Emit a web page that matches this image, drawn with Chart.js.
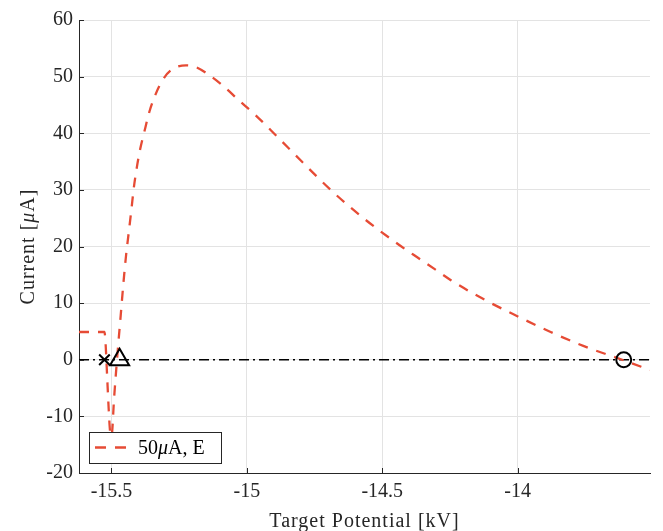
<!DOCTYPE html>
<html>
<head>
<meta charset="utf-8">
<script src="https://cdn.jsdelivr.net/npm/chart.js@4.4.0/dist/chart.umd.min.js"></script>
<style>
  html, body { margin: 0; padding: 0; background: #fff; }
  canvas { display: block; }
</style>
</head>
<body>
<canvas id="chart" width="663" height="531"></canvas>
<script>
// Target potential sweep [kV] and measured current [uA]
const potentialKV = [
  -15.620, -15.560, -15.526, -15.522, -15.516, -15.510, -15.505, -15.500,
  -15.490, -15.478, -15.466, -15.456, -15.446, -15.436, -15.426, -15.418,
  -15.407, -15.394, -15.379, -15.360, -15.336, -15.311, -15.281, -15.225,
  -15.189, -15.140, -15.091, -15.029, -14.968, -14.894, -14.797, -14.686,
  -14.564, -14.441, -14.368, -14.306, -14.245, -14.122, -13.997, -13.878,
  -13.755, -13.608, -13.511
];
const currentUA = [
  4.9, 4.9, 4.9, 3.0, -3.0, -9.0, -12.8, -13.5,
  -6.5, 1.0, 7.8, 13.5, 18.5, 22.6, 26.7, 30.2,
  33.8, 37.2, 40.2, 43.8, 47.0, 49.4, 51.1, 52.0,
  51.7, 50.3, 48.5, 45.8, 43.2, 39.7, 35.0, 29.8,
  24.8, 20.4, 18.0, 16.0, 14.0, 10.6, 7.6, 4.9,
  2.4, -0.1, -1.8
];
const seriesLabel = '50μA, E';

// Characteristic points on the zero-current line
const crossPoint = [-15.526, 0];
const trianglePoint = [-15.47, 0];
const circlePoint = [-13.608, 0];

// Axes
const xRange = [-15.62, -13.511];
const yRange = [-20, 60];
const xTicks = [-15.5, -15, -14.5, -14];
const xTickLabels = ['-15.5', '-15', '-14.5', '-14'];
const yTicks = [-20, -10, 0, 10, 20, 30, 40, 50, 60];
const yTickLabels = ['-20', '-10', '0', '10', '20', '30', '40', '50', '60'];
const xTitle = 'Target Potential [kV]';
const yTitleParts = [['Current [', false], ['μ', true], ['A]', false]];

const FONT = '"Liberation Serif", "Times New Roman", serif';
const AXIS = '#262626';
const GRID = '#e3e3e3';
const RED = '#e64b35';
const CURVE_DASH = [10, 9];

const curve = potentialKV.map((x, i) => ({ x, y: currentUA[i] }));

// Inward tick marks, axis titles and the boxed legend
const decorations = {
  id: 'decorations',
  afterDraw(chart) {
    const { ctx, chartArea: a, scales: { x, y } } = chart;
    ctx.save();
    ctx.strokeStyle = AXIS;
    ctx.lineWidth = 1;
    ctx.beginPath();
    xTicks.forEach(v => {
      const px = Math.round(x.getPixelForValue(v)) + 0.5;
      ctx.moveTo(px, a.bottom); ctx.lineTo(px, a.bottom - 5);
    });
    yTicks.forEach(v => {
      const py = Math.round(y.getPixelForValue(v)) + 0.5;
      ctx.moveTo(a.left, py); ctx.lineTo(a.left + 5, py);
    });
    ctx.stroke();

    // x title
    ctx.fillStyle = '#262626';
    ctx.font = '20px ' + FONT;
    ctx.letterSpacing = '1px';
    ctx.textAlign = 'center';
    ctx.textBaseline = 'alphabetic';
    ctx.fillText(xTitle, (a.left + a.right) / 2, 527);

    // y title (rotated, mixed italic)
    ctx.save();
    const cy = (a.top + a.bottom) / 2;
    ctx.translate(34, cy);
    ctx.rotate(-Math.PI / 2);
    ctx.textAlign = 'left';
    const fontFor = it => (it ? 'italic ' : '') + '20px ' + FONT;
    let total = 0;
    yTitleParts.forEach(([t, it]) => { ctx.font = fontFor(it); total += ctx.measureText(t).width; });
    let cx = -total / 2;
    yTitleParts.forEach(([t, it]) => {
      ctx.font = fontFor(it);
      ctx.fillText(t, cx, 0);
      cx += ctx.measureText(t).width;
    });
    ctx.restore();

    // legend
    ctx.letterSpacing = '0px';
    const bx = 89.5, by = 432.5, bw = 132, bh = 31;
    ctx.fillStyle = '#fff';
    ctx.fillRect(bx, by, bw, bh);
    ctx.strokeStyle = AXIS;
    ctx.lineWidth = 1;
    ctx.strokeRect(bx, by, bw, bh);
    ctx.beginPath();
    ctx.strokeStyle = RED;
    ctx.lineWidth = 2.3;
    ctx.setLineDash([11, 9]);
    ctx.moveTo(95, 447.5); ctx.lineTo(126, 447.5);
    ctx.stroke();
    ctx.setLineDash([]);
    ctx.fillStyle = '#000';
    ctx.textAlign = 'left';
    const parts = seriesLabel.split('μ');
    let lx = 138;
    ctx.font = '20px ' + FONT;
    ctx.fillText(parts[0], lx, 454); lx += ctx.measureText(parts[0]).width;
    ctx.font = 'italic 20px ' + FONT;
    ctx.fillText('μ', lx, 454); lx += ctx.measureText('μ').width;
    ctx.font = '20px ' + FONT;
    ctx.fillText(parts[1], lx, 454);
    ctx.restore();
  }
};

const markerBase = {
  showLine: false,
  borderColor: '#000',
  backgroundColor: 'rgba(0,0,0,0)',
  pointBorderWidth: 2,
  borderWidth: 2,
  pointHoverRadius: 0
};

new Chart(document.getElementById('chart').getContext('2d'), {
  type: 'scatter',
  data: {
    datasets: [
      Object.assign({ label: 'cross', data: [{ x: crossPoint[0], y: crossPoint[1] }], pointStyle: 'crossRot', pointRadius: 7.5, order: 0 }, markerBase),
      Object.assign({ label: 'triangle', data: [{ x: trianglePoint[0], y: trianglePoint[1] }], pointStyle: 'triangle', pointRadius: 11, order: 0 }, markerBase),
      Object.assign({ label: 'circle', data: [{ x: circlePoint[0], y: circlePoint[1] }], pointStyle: 'circle', pointRadius: 7.5, order: 0 }, markerBase),
      {
        label: seriesLabel,
        data: curve,
        showLine: true,
        borderColor: RED,
        borderWidth: 2.3,
        borderDash: CURVE_DASH,
        pointRadius: 0,
        cubicInterpolationMode: 'monotone',
        order: 1
      },
      {
        label: 'zero',
        data: [{ x: xRange[0], y: 0 }, { x: xRange[1], y: 0 }],
        showLine: true,
        borderColor: '#000',
        borderWidth: 1.6,
        borderDash: [10, 4, 2, 4],
        pointRadius: 0,
        order: 2
      }
    ]
  },
  options: {
    responsive: false,
    animation: false,
    devicePixelRatio: 1,
    layout: { padding: { top: 20, right: 10, left: 0, bottom: 0 } },
    plugins: { legend: { display: false }, tooltip: { enabled: false } },
    scales: {
      x: {
        type: 'linear',
        min: xRange[0],
        max: xRange[1],
        afterBuildTicks: s => { s.ticks = xTicks.map(v => ({ value: v })); },
        afterFit: s => { s.height = 58; },
        ticks: {
          color: '#262626',
          font: { family: FONT, size: 20 },
          padding: 7,
          maxRotation: 0,
          autoSkip: false,
          callback: (v, i) => xTickLabels[i]
        },
        grid: { color: GRID, lineWidth: 1, drawTicks: false },
        border: { display: true, color: AXIS, width: 1 }
      },
      y: {
        type: 'linear',
        min: yRange[0],
        max: yRange[1],
        afterBuildTicks: s => { s.ticks = yTicks.map(v => ({ value: v })); },
        afterFit: s => { s.width = 79; },
        ticks: {
          color: '#262626',
          font: { family: FONT, size: 20 },
          padding: 6,
          autoSkip: false,
          callback: (v, i) => yTickLabels[i]
        },
        grid: { color: GRID, lineWidth: 1, drawTicks: false },
        border: { display: true, color: AXIS, width: 1 }
      }
    }
  },
  plugins: [decorations]
});
</script>
</body>
</html>
